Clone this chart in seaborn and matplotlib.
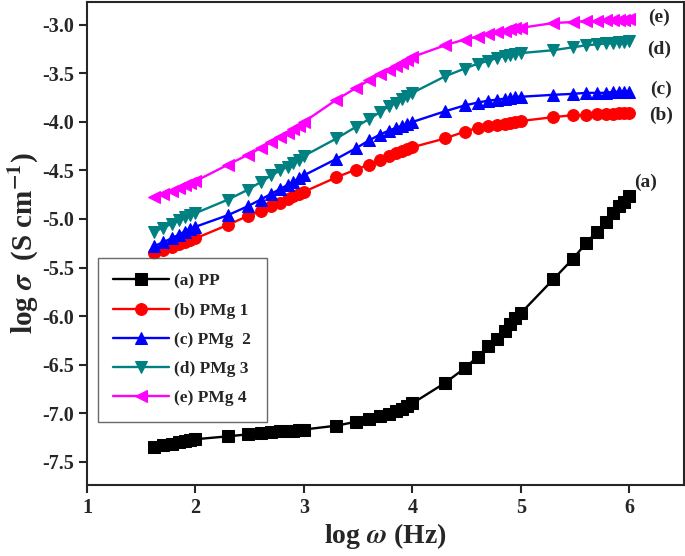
import numpy as np
import pandas as pd
import matplotlib
matplotlib.use('Agg')
import matplotlib.pyplot as plt
import seaborn as sns

# log frequency values (same for every sample)
log_w = [1.62, 1.70, 1.78, 1.85, 1.90, 1.95, 2.00, 2.30, 2.48, 2.60, 2.70, 2.78, 2.85, 2.90, 2.95,
         3.00, 3.30, 3.48, 3.60, 3.70, 3.78, 3.85, 3.90, 3.95, 4.00, 4.30, 4.48, 4.60, 4.70, 4.78,
         4.85, 4.90, 4.95, 5.00, 5.30, 5.48, 5.60, 5.70, 5.78, 5.85, 5.90, 5.95, 6.00]

pp = [-7.35, -7.33, -7.32, -7.30, -7.29, -7.28, -7.27, -7.24, -7.22, -7.21, -7.20, -7.19, -7.19, -7.18, -7.17,
      -7.17, -7.13, -7.09, -7.06, -7.03, -7.01, -6.98, -6.96, -6.93, -6.90, -6.69, -6.54, -6.42, -6.31, -6.24,
      -6.15, -6.08, -6.02, -5.97, -5.62, -5.41, -5.25, -5.13, -5.03, -4.94, -4.87, -4.82, -4.76]
pmg1 = [-5.35, -5.32, -5.29, -5.26, -5.24, -5.22, -5.20, -5.06, -4.97, -4.92, -4.87, -4.83, -4.79, -4.76, -4.74,
        -4.72, -4.57, -4.49, -4.44, -4.39, -4.35, -4.32, -4.30, -4.28, -4.26, -4.17, -4.10, -4.06, -4.04, -4.03,
        -4.02, -4.01, -4.00, -3.99, -3.95, -3.93, -3.93, -3.92, -3.92, -3.92, -3.91, -3.91, -3.91]
pmg2 = [-5.28, -5.24, -5.20, -5.16, -5.13, -5.10, -5.08, -4.96, -4.87, -4.80, -4.74, -4.69, -4.65, -4.62, -4.58,
        -4.55, -4.38, -4.27, -4.19, -4.13, -4.09, -4.06, -4.04, -4.02, -4.00, -3.89, -3.83, -3.80, -3.78, -3.77,
        -3.76, -3.75, -3.74, -3.74, -3.72, -3.71, -3.70, -3.70, -3.70, -3.69, -3.69, -3.69, -3.69]
pmg3 = [-5.13, -5.09, -5.05, -5.01, -4.98, -4.96, -4.94, -4.80, -4.70, -4.62, -4.55, -4.50, -4.46, -4.42, -4.39,
        -4.35, -4.17, -4.05, -3.97, -3.90, -3.84, -3.80, -3.76, -3.73, -3.70, -3.53, -3.45, -3.40, -3.37, -3.34,
        -3.32, -3.31, -3.30, -3.29, -3.26, -3.23, -3.21, -3.20, -3.19, -3.19, -3.18, -3.18, -3.17]
pmg4 = [-4.77, -4.74, -4.71, -4.68, -4.65, -4.63, -4.61, -4.44, -4.34, -4.27, -4.21, -4.16, -4.11, -4.07, -4.04,
        -4.00, -3.77, -3.65, -3.57, -3.51, -3.46, -3.42, -3.39, -3.36, -3.33, -3.21, -3.15, -3.12, -3.09, -3.07,
        -3.06, -3.04, -3.03, -3.03, -2.98, -2.97, -2.96, -2.96, -2.95, -2.95, -2.95, -2.95, -2.94]

labels = ['(a) PP', '(b) PMg 1', '(c) PMg  2', '(d) PMg 3', '(e) PMg 4']
tags = ['(a)', '(b)', '(c)', '(d)', '(e)']
series = [pp, pmg1, pmg2, pmg3, pmg4]
colors = ['black', '#ff0000', '#0000ff', '#008080', '#ff00ff']
markers = ['s', 'o', '^', 'v', '<']

sns.set_style('ticks')
plt.rcParams['font.family'] = ['Liberation Serif', 'DejaVu Serif']
plt.rcParams['font.weight'] = 'bold'
plt.rcParams['mathtext.fontset'] = 'stix'

fig = plt.figure(figsize=(6.85, 5.56), dpi=100)
ax = fig.add_axes([0.127, 0.128, 0.871, 0.869])

for vals, lab, col, mk in zip(series, labels, colors, markers):
    sns.lineplot(x=log_w, y=vals, ax=ax, color=col, marker=mk, markersize=8.5,
                 markeredgecolor=col, linewidth=1.7, label=lab)

# series tags at the right end
tag_pos = [(6.15, -4.62), (6.29, -3.93), (6.29, -3.66), (6.27, -3.25), (6.27, -2.92)]
for t, (tx, ty) in zip(tags, tag_pos):
    ax.text(tx, ty, t, fontsize=14, fontweight='bold', ha='center', va='center')

ax.set_xlim(1, 6.5)
ax.set_ylim(-7.74, -2.76)
ax.set_xticks([1, 2, 3, 4, 5, 6])
ax.set_yticks([-7.5, -7.0, -6.5, -6.0, -5.5, -5.0, -4.5, -4.0, -3.5, -3.0])
ax.set_yticklabels(['-7.5', '-7.0', '-6.5', '-6.0', '-5.5', '-5.0', '-4.5', '-4.0', '-3.5', '-3.0'])
ax.tick_params(labelsize=14.5, width=1.5, length=6, direction='out')
for lbl in ax.get_xticklabels() + ax.get_yticklabels():
    lbl.set_fontweight('bold')
for s in ax.spines.values():
    s.set_linewidth(1.5)
    s.set_visible(True)

ax.set_xlabel(r'log $\omega$ (Hz)', fontsize=20, fontweight='bold', labelpad=2)
ax.set_ylabel(r'log $\sigma$  (S cm$^{\mathbf{-1}}$)', fontsize=21, fontweight='bold', labelpad=1)

leg = ax.legend(loc='upper left', bbox_to_anchor=(0.018, 0.47), borderaxespad=0, frameon=True,
                fancybox=False, edgecolor='#444444', prop={'weight': 'bold', 'size': 12.5},
                handlelength=3.2, handletextpad=0.3, labelspacing=0.75, borderpad=0.9)
leg.get_frame().set_linewidth(1.0)

plt.savefig('out.png', dpi=100)
